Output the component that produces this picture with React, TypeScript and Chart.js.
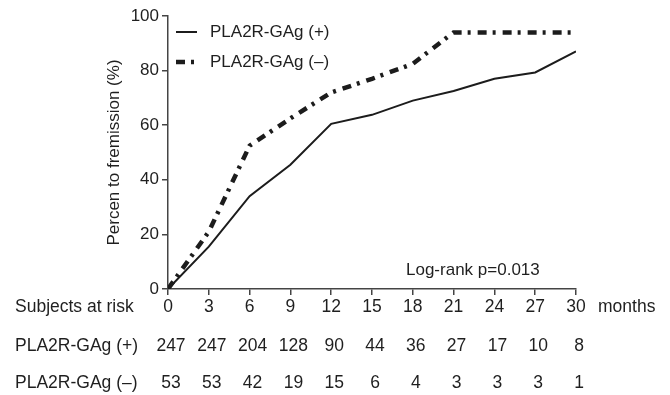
import React, { useEffect, useRef } from 'react';
import { Chart, registerables } from 'chart.js';

Chart.register(...registerables);

// ---- Data ----
const months = [0, 3, 6, 9, 12, 15, 18, 21, 24, 27, 30];
const positiveRemission = [0, 15.5, 34, 45.5, 60.5, 63.8, 69, 72.5, 77, 79.3, 87];
const negativeRemission = [0, 21, 52.5, 62.5, 72, 77, 82.5, 94, 94, 94, 94];
const riskPositive = [247, 247, 204, 128, 90, 44, 36, 27, 17, 10, 8];
const riskNegative = [53, 53, 42, 19, 15, 6, 4, 3, 3, 3, 1];
const yTicks = [0, 20, 40, 60, 80, 100];
const labelPositive = 'PLA2R-GAg (+)';
const labelNegative = 'PLA2R-GAg (–)';
const yTitle = 'Percen to fremission (%)';
const riskTitle = 'Subjects at risk';
const unitLabel = 'months';
const statText = 'Log-rank p=0.013';

const FONT_FAMILY = '"Liberation Sans", Arial, Helvetica, sans-serif';
const TEXT = '#1f1f1f';
const AXIS = '#444';
const LINE = '#1c1c1c';
const DASH = [9, 6, 3, 7];

const overlayPlugin = {
  id: 'overlay',
  afterDraw(chart: any) {
    const ctx = chart.ctx as CanvasRenderingContext2D;
    const xs = chart.scales.x;
    const area = chart.chartArea;
    ctx.save();
    ctx.fillStyle = TEXT;
    ctx.textBaseline = 'middle';

    // legend
    const legendItems = [
      { label: labelPositive, ds: chart.data.datasets[0], y: 32 },
      { label: labelNegative, ds: chart.data.datasets[1], y: 62 },
    ];
    legendItems.forEach((it) => {
      ctx.save();
      ctx.strokeStyle = it.ds.borderColor;
      ctx.lineWidth = it.ds.borderWidth;
      ctx.setLineDash(it.ds.borderDash || []);
      ctx.beginPath();
      ctx.moveTo(area.left + 8, it.y);
      ctx.lineTo(area.left + 29, it.y);
      ctx.stroke();
      ctx.restore();
      ctx.font = `17px ${FONT_FAMILY}`;
      ctx.textAlign = 'left';
      ctx.fillText(it.label, area.left + 42, it.y);
    });

    // log-rank text
    ctx.font = `17px ${FONT_FAMILY}`;
    ctx.textAlign = 'left';
    ctx.fillText(statText, xs.getPixelForValue(17.5), 270);

    // risk table
    const rowY = [307, 346, 383];
    ctx.font = `17.5px ${FONT_FAMILY}`;
    ctx.textAlign = 'left';
    ctx.fillText(riskTitle, 15, rowY[0]);
    ctx.fillText(labelPositive, 15, rowY[1]);
    ctx.fillText(labelNegative, 15, rowY[2]);
    ctx.fillText(unitLabel, xs.right + 22, rowY[0]);
    ctx.textAlign = 'center';
    months.forEach((m, i) => {
      const px = xs.getPixelForValue(m) + 3;
      ctx.fillText(String(riskPositive[i]), px, rowY[1]);
      ctx.fillText(String(riskNegative[i]), px, rowY[2]);
    });
    ctx.restore();
  },
};

export default function App() {
  const ref = useRef<HTMLCanvasElement | null>(null);
  useEffect(() => {
    if (!ref.current) return;
    const chart = new Chart(ref.current, {
      type: 'line',
      data: {
        datasets: [
          {
            label: labelPositive,
            data: months.map((m, i) => ({ x: m, y: positiveRemission[i] })),
            borderColor: LINE,
            borderWidth: 2,
            pointRadius: 0,
            tension: 0,
            fill: false,
          },
          {
            label: labelNegative,
            data: months.map((m, i) => ({ x: m, y: negativeRemission[i] })),
            borderColor: LINE,
            borderWidth: 4.5,
            borderDash: DASH,
            borderCapStyle: 'butt',
            pointRadius: 0,
            tension: 0,
            fill: false,
          },
        ],
      },
      options: {
        responsive: false,
        animation: false,
        devicePixelRatio: 1,
        layout: { padding: { left: 0, right: 94, top: 16, bottom: 0 } },
        plugins: { legend: { display: false }, tooltip: { enabled: false } },
        scales: {
          x: {
            type: 'linear',
            min: 0,
            max: 30,
            afterBuildTicks: (s: any) => {
              s.ticks = months.map((v) => ({ value: v }));
            },
            afterFit: (s: any) => {
              s.height = 395 - 289;
            },
            border: { display: true, color: AXIS, width: 1.5 },
            grid: {
              display: true,
              drawOnChartArea: false,
              drawTicks: true,
              tickLength: 6,
              color: AXIS,
              lineWidth: 1.5,
            },
            ticks: {
              autoSkip: false,
              maxRotation: 0,
              padding: 2,
              color: TEXT,
              font: { size: 17.5, family: FONT_FAMILY },
            },
          },
          y: {
            type: 'linear',
            min: 0,
            max: 100,
            afterBuildTicks: (s: any) => {
              s.ticks = yTicks.map((v) => ({ value: v }));
            },
            afterFit: (s: any) => {
              s.width = 168;
            },
            border: { display: true, color: AXIS, width: 1.5 },
            grid: {
              display: true,
              drawOnChartArea: false,
              drawTicks: true,
              tickLength: 6,
              color: AXIS,
              lineWidth: 1.5,
            },
            ticks: {
              padding: 3,
              color: TEXT,
              font: { size: 17, family: FONT_FAMILY },
            },
            title: {
              display: true,
              text: yTitle,
              color: TEXT,
              font: { size: 17, family: FONT_FAMILY },
              padding: { top: 104, bottom: 0 },
            },
          },
        },
      },
      plugins: [overlayPlugin],
    } as any);
    return () => chart.destroy();
  }, []);
  return (
    <div style={{ position: 'absolute', left: 0, top: 0, width: 670, height: 395, background: '#fff' }}>
      <canvas ref={ref} width={670} height={395} style={{ width: 670, height: 395, display: 'block' }} />
    </div>
  );
}
